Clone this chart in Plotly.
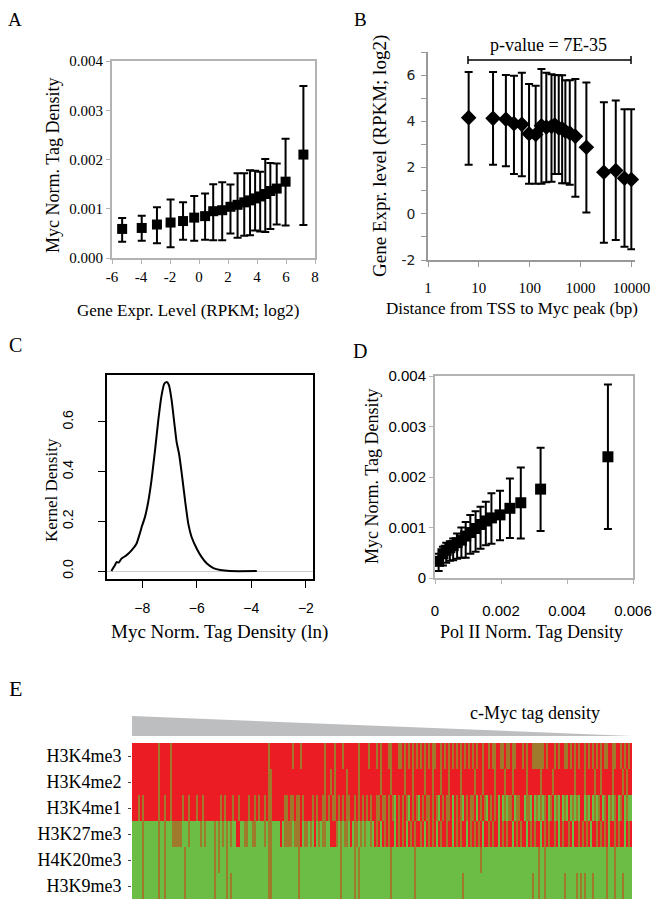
import plotly.graph_objects as go

# page body has an 8px margin, so the figure is drawn 8px smaller and all
# positions are expressed in screen pixels minus that offset
OFF = 8
W, H = 664 - OFF, 906 - OFF

# ---------------- Panel A data ----------------
A_X = [-5.3, -3.95, -2.9, -1.96, -1.1, -0.33, 0.42, 0.98, 1.6, 2.17, 2.66, 3.12, 3.52, 3.87, 4.22, 4.57, 4.92, 5.36, 5.97, 7.2]
A_Y = [0.00059, 0.00061, 0.00068, 0.00072, 0.00075, 0.00082, 0.00085, 0.00095, 0.00097, 0.00104, 0.00108, 0.00113, 0.00117, 0.00121, 0.00125, 0.0013, 0.00136, 0.00141, 0.00155, 0.0021]
A_HI = [0.00081, 0.00086, 0.00103, 0.00119, 0.00113, 0.00126, 0.00131, 0.0015, 0.00154, 0.00149, 0.00172, 0.00172, 0.00178, 0.00177, 0.00175, 0.00201, 0.00193, 0.00192, 0.00242, 0.00349]
A_LO = [0.00033, 0.00035, 0.0003, 0.00022, 0.00037, 0.00035, 0.00037, 0.00036, 0.00036, 0.0005, 0.00041, 0.00045, 0.00046, 0.00056, 0.00054, 0.00053, 0.00059, 0.00068, 0.00066, 0.00067]
A_XTICKS = [-6, -4, -2, 0, 2, 4, 6, 8]
A_XTICKTEXT = ["-6", "-4", "-2", "0", "2", "4", "6", "8"]
A_YTICKS = [0.0, 0.001, 0.002, 0.003, 0.004]
A_YTICKTEXT = ["0.000", "0.001", "0.002", "0.003", "0.004"]

# ---------------- Panel B data ----------------
B_X = [6.3, 19, 34, 49, 70, 97, 131, 170, 212, 268, 311, 372, 434, 502, 613, 790, 1300, 2870, 4920, 7300, 9950]
B_Y = [4.16, 4.13, 4.09, 3.9, 3.87, 3.46, 3.43, 3.81, 3.75, 3.78, 3.84, 3.71, 3.68, 3.57, 3.49, 3.35, 2.88, 1.8, 1.87, 1.54, 1.48]
B_HI = [6.14, 6.14, 6.01, 5.97, 6.1, 5.61, 5.54, 6.26, 6.1, 6.04, 6.01, 5.99, 5.99, 5.78, 5.78, 5.83, 5.68, 4.83, 4.9, 4.52, 4.52]
B_LO = [2.12, 2.12, 2.06, 1.72, 1.62, 1.3, 1.3, 1.3, 1.36, 1.39, 1.72, 1.72, 1.32, 1.32, 1.26, 0.74, 0.06, -1.25, -1.14, -1.43, -1.54]
B_XTICKS = [1, 10, 100, 1000, 10000]
B_XTICKTEXT = ["1", "10", "100", "1000", "10000"]
B_YTICKS = [-2, -1, 0, 1, 2, 3, 4, 5, 6, 7]
B_YTICKTEXT = ["-2", "", "0", "", "2", "", "4", "", "6", ""]
B_PVALUE = "p-value = 7E-35"

# ---------------- Panel C data ----------------
C_X = [-9.13, -9.0, -8.94, -8.86, -8.76, -8.58, -8.39, -8.21, -8.09, -8.02, -7.9, -7.78, -7.66, -7.53, -7.41, -7.29, -7.19, -7.1, -7.02, -6.92, -6.82, -6.74, -6.65, -6.55, -6.43, -6.31, -6.19, -6.0, -5.82, -5.63, -5.39, -5.14, -4.78, -3.8]
C_Y = [0.0, 0.023, 0.036, 0.034, 0.05, 0.063, 0.083, 0.11, 0.15, 0.177, 0.217, 0.278, 0.365, 0.486, 0.607, 0.707, 0.754, 0.761, 0.748, 0.687, 0.593, 0.52, 0.472, 0.392, 0.285, 0.19, 0.137, 0.09, 0.056, 0.03, 0.012, 0.004, 0.0, 0.0]
C_XTICKS = [-8, -6, -4, -2]
C_XTICKTEXT = ["\u22128", "\u22126", "\u22124", "\u22122"]
C_YTICKS = [0.0, 0.2, 0.4, 0.6]
C_YTICKTEXT = ["0.0", "0.2", "0.4", "0.6"]

# ---------------- Panel D data ----------------
D_X = [0.00011, 0.00024, 0.00034, 0.00045, 0.00055, 0.00067, 0.0008, 0.00093, 0.00107, 0.00123, 0.00138, 0.00154, 0.00171, 0.00197, 0.00227, 0.0026, 0.0032, 0.00524]
D_Y = [0.00033, 0.00048, 0.00055, 0.0006, 0.00064, 0.0007, 0.00075, 0.00083, 0.0009, 0.00098, 0.00106, 0.00113, 0.00119, 0.00125, 0.00138, 0.00149, 0.00176, 0.0024]
D_HI = [0.00048, 0.00062, 0.0007, 0.00073, 0.00078, 0.00088, 0.001, 0.00111, 0.00125, 0.00132, 0.00141, 0.00151, 0.00168, 0.00173, 0.00197, 0.00219, 0.00258, 0.00383]
D_LO = [0.00014, 0.00025, 0.0003, 0.00034, 0.00035, 0.00038, 0.0004, 0.0004, 0.00048, 0.00052, 0.00058, 0.00065, 0.00068, 0.00075, 0.00079, 0.00078, 0.00093, 0.00097]
D_XTICKS = [0, 0.002, 0.004, 0.006]
D_XTICKTEXT = ["0", "0.002", "0.004", "0.006"]
D_YTICKS = [0, 0.001, 0.002, 0.003, 0.004]
D_YTICKTEXT = ["0", "0.001", "0.002", "0.003", "0.004"]

# ---------------- Panel E data ----------------
E_ROWS = ["H3K4me3", "H3K4me2", "H3K4me1", "H3K27me3", "H4K20me3", "H3K9me3"]
E_NCOLS = 250
E_BASE = [1, 1, 1, 0, 0, 0]
H3K4ME3_OLIVE = [13, 19, 68, 80, 84, 96, 101, 105, 113, 118, 122, 124, 128, 129, 133, 134, 136, 138, 140, 142, 144, 146, 148, 150, 151, 154, 156, 158, 160, 162, 164, 166, 168, 170, 172, 175, 178, 180, 181, 184, 185, 187, 188, 190, 191, 195, 197, 200, 201, 202, 203, 204, 205, 207, 211, 213, 216, 217, 219, 221, 223, 226, 228, 230, 232, 234, 236, 237, 240, 241, 244, 246, 248]
H3K4ME2_OLIVE = [13, 19, 68, 69, 96, 99, 101, 107, 113, 124, 129, 136, 140, 146, 150, 154, 158, 164, 171, 175, 181, 186, 190, 197, 204, 210, 221, 226, 231, 234, 240, 245, 247]
H3K4ME1_OLIVE = [3, 5, 13, 16, 19, 25, 28, 32, 35, 44, 46, 50, 53, 58, 61, 63, 66, 68, 69, 76, 77, 79, 80, 82, 83, 85, 90, 92, 95, 96, 98, 100, 101, 103, 105, 107, 108, 111, 113, 115, 117, 119, 122, 123, 125, 126, 128, 130, 133, 135, 137, 140, 142, 145, 147, 148, 150, 152, 155, 157, 158, 162, 164, 167, 169, 170, 174, 176, 179, 181, 186, 188, 189, 192, 193, 197, 198, 202, 204, 206, 209, 212, 216, 220, 222, 227, 231, 233, 236, 239, 241, 244, 247]
H3K4ME1_GREEN = [131, 138, 143, 153, 160, 165, 172, 177, 183, 185, 187, 191, 196, 199, 201, 203, 205, 208, 211, 213, 215, 217, 219, 221, 223, 226, 228, 230, 232, 235, 238, 240, 243, 246, 248, 249]
H3K27ME3_RED_SPANS = [(52, 53), (99, 101), (121, 249)]
H3K27ME3_RED = [74, 84, 91, 109]
H3K27ME3_OLIVE = [5, 13, 16, 20, 21, 22, 23, 24, 28, 34, 36, 41, 43, 45, 47, 49, 56, 57, 60, 61, 66, 68, 69, 76, 77, 78, 79, 81, 82, 83, 86, 87, 89, 93, 95, 96, 102, 104, 106, 107, 111, 112, 114, 116, 119, 122, 126, 128, 133, 135, 139, 141, 144, 148, 150, 154, 157, 162, 164, 169, 171, 173, 178, 180, 185, 187, 192, 194, 199, 201, 206, 208, 211, 215, 218, 223, 225, 227, 232, 234, 236, 241, 243, 248]
H3K27ME3_GREEN = [124, 131, 137, 146, 152, 160, 167, 175, 183, 190, 197, 204, 213, 220, 229, 238, 246]
H4K20ME3_OLIVE = [5, 13, 16, 26, 41, 43, 47, 68, 69, 83, 104, 111, 113, 129, 141, 174, 203, 206, 237, 241]
H3K9ME3_OLIVE = [5, 13, 16, 26, 41, 47, 49, 68, 69, 83, 104, 111, 113, 129, 141, 165, 200, 203, 206, 216, 222, 224, 226, 230, 237, 241, 245]

E_RED_SPANS = [[], [], [], H3K27ME3_RED_SPANS, [], []]
E_RED = [[], [], [], H3K27ME3_RED, [], []]
E_OLIVE = [H3K4ME3_OLIVE, H3K4ME2_OLIVE, H3K4ME1_OLIVE, H3K27ME3_OLIVE, H4K20ME3_OLIVE, H3K9ME3_OLIVE]
E_GREEN = [[], [], H3K4ME1_GREEN, H3K27ME3_GREEN, [], []]

z = []
for r in range(len(E_ROWS)):
    row = [E_BASE[r]] * E_NCOLS
    for a, b in E_RED_SPANS[r]:
        for c in range(a, b + 1):
            row[c] = 1
    for c in E_RED[r]:
        row[c] = 1
    for c in E_OLIVE[r]:
        row[c] = 0.5
    for c in E_GREEN[r]:
        row[c] = 0
    z.append(row)

# ---------------- layout helpers (screen px -> paper) ----------------
def px(x):
    return (x - OFF) / W

def py(y):
    return 1 - (y - OFF) / H

SERIF = "Liberation Serif"
SANS = "Liberation Sans"
VERD = "DejaVu Sans"

fig = go.Figure()

def errs(y, hi, lo):
    return [h - v for h, v in zip(hi, y)], [v - l for v, l in zip(y, lo)]

# A
ep, em = errs(A_Y, A_HI, A_LO)
fig.add_trace(go.Scatter(x=A_X, y=A_Y, mode="markers", xaxis="x", yaxis="y",
                         marker=dict(symbol="square", size=10, color="black"),
                         error_y=dict(type="data", symmetric=False, array=ep, arrayminus=em,
                                      color="black", thickness=2, width=4),
                         showlegend=False))
# B
ep, em = errs(B_Y, B_HI, B_LO)
fig.add_trace(go.Scatter(x=B_X, y=B_Y, mode="markers", xaxis="x2", yaxis="y2",
                         marker=dict(symbol="diamond", size=12, color="black"),
                         error_y=dict(type="data", symmetric=False, array=ep, arrayminus=em,
                                      color="black", thickness=2, width=4),
                         showlegend=False, cliponaxis=False))
# C
fig.add_trace(go.Scatter(x=C_X, y=C_Y, mode="lines", xaxis="x3", yaxis="y3",
                         line=dict(color="black", width=2, shape="spline", smoothing=0.5),
                         showlegend=False))
# D
ep, em = errs(D_Y, D_HI, D_LO)
fig.add_trace(go.Scatter(x=D_X, y=D_Y, mode="markers", xaxis="x4", yaxis="y4",
                         marker=dict(symbol="square", size=11, color="black"),
                         error_y=dict(type="data", symmetric=False, array=ep, arrayminus=em,
                                      color="black", thickness=2, width=4),
                         showlegend=False, cliponaxis=False))
# E
fig.add_trace(go.Heatmap(z=z, x=list(range(E_NCOLS)), y=list(range(len(E_ROWS))),
                         xaxis="x5", yaxis="y5", zmin=0, zmax=1, showscale=False,
                         colorscale=[[0, "#6cbd45"], [0.5, "#9f7a2c"], [1, "#ec1c24"]],
                         hoverinfo="skip"))

GRAY = "#b3b3b3"
common = dict(showgrid=False, zeroline=False, automargin=False)

fig.update_layout(
    template="none",
    width=W, height=H, margin=dict(l=0, r=0, t=0, b=0, pad=0, autoexpand=False),
    paper_bgcolor="white", plot_bgcolor="white",
    xaxis=dict(domain=[px(112), px(315)], range=[-6, 8], tickvals=A_XTICKS, ticktext=A_XTICKTEXT, anchor="y",
               ticks="outside", ticklen=4, tickcolor=GRAY, showline=True, mirror=True,
               linecolor=GRAY, linewidth=2, tickfont=dict(family=SERIF, size=15, color="black"), **common),
    yaxis=dict(domain=[py(258), py(61)], range=[0, 0.004], tickvals=A_YTICKS, ticktext=A_YTICKTEXT, anchor="x",
               ticks="outside", ticklen=4, tickcolor=GRAY, showline=True, mirror=True,
               linecolor=GRAY, linewidth=2, tickfont=dict(family=SERIF, size=15, color="black"), **common),
    xaxis2=dict(domain=[px(428), px(635)], type="log", range=[0, 4.07], tickvals=B_XTICKS, ticktext=B_XTICKTEXT,
                anchor="y2", ticks="outside", ticklen=5, tickcolor="#999999", showline=True,
                linecolor="#999999", linewidth=1.5, ticklabelstandoff=8,
                tickfont=dict(family=SERIF, size=15, color="black"), **common),
    yaxis2=dict(domain=[py(260), py(52)], range=[-2, 7], tickvals=B_YTICKS, ticktext=B_YTICKTEXT,
                anchor="x2", ticks="outside", ticklen=5, tickcolor="#999999", showline=True,
                linecolor="#999999", linewidth=1.5, ticklabelstandoff=3,
                tickfont=dict(family=VERD, size=14, color="#222222"), **common),
    xaxis3=dict(domain=[px(107), px(313)], range=[-9.29, -1.74], tickvals=C_XTICKS, ticktext=C_XTICKTEXT,
                anchor="y3", ticks="outside", ticklen=7, tickcolor="black", showline=True, mirror=True,
                linecolor="black", linewidth=1.5, ticklabelstandoff=8,
                tickfont=dict(family=SANS, size=14, color="black"), **common),
    yaxis3=dict(domain=[py(579), py(375)], range=[-0.032, 0.789], tickvals=C_YTICKS, ticktext=C_YTICKTEXT,
                anchor="x3", ticks="outside", ticklen=7, tickcolor="black", showline=True, mirror=True,
                linecolor="black", linewidth=1.5, tickangle=-90, ticklabelstandoff=20,
                tickfont=dict(family=SANS, size=14, color="black"), showgrid=False, automargin=False,
                zeroline=True, zerolinecolor="#cccccc", zerolinewidth=1),
    xaxis4=dict(domain=[px(435), px(633)], range=[0, 0.006], tickvals=D_XTICKS, ticktext=D_XTICKTEXT,
                anchor="y4", ticks="outside", ticklen=4, tickcolor=GRAY, showline=True, mirror=True,
                linecolor=GRAY, linewidth=2, ticklabelstandoff=14,
                tickfont=dict(family=SANS, size=15, color="black"), **common),
    yaxis4=dict(domain=[py(578), py(376)], range=[0, 0.004], tickvals=D_YTICKS, ticktext=D_YTICKTEXT,
                anchor="x4", ticks="outside", ticklen=4, tickcolor=GRAY, showline=True, mirror=True,
                linecolor=GRAY, linewidth=2,
                tickfont=dict(family=SANS, size=15, color="black"), **common),
    xaxis5=dict(domain=[px(132), px(632)], range=[-0.5, E_NCOLS - 0.5], anchor="y5",
                showticklabels=False, ticks="", showline=False, **common),
    yaxis5=dict(domain=[py(899), py(743)], range=[len(E_ROWS) - 0.5, -0.5], anchor="x5",
                tickvals=list(range(len(E_ROWS))), ticktext=E_ROWS, ticks="outside", ticklen=3,
                tickcolor="#444444", showline=False, ticklabelstandoff=3,
                tickfont=dict(family=SERIF, size=18, color="black"), **common),
)

ann = []
def txt(x, y, s, size, font=SERIF, angle=0, yanchor="middle"):
    ann.append(dict(x=px(x), y=py(y), xref="paper", yref="paper", text=s, showarrow=False,
                    textangle=angle, xanchor="center", yanchor=yanchor, borderpad=0,
                    font=dict(family=font, size=size, color="black")))

# panel letters (A and B sit at the very top of the visible page)
txt(15, 8.5, "A", 19, yanchor="top")
txt(360, 8.5, "B", 19, yanchor="top")
txt(15, 345, "C", 20)
txt(360, 351, "D", 20)
txt(15, 688, "E", 22)
# A titles
txt(53, 166, "Myc Norm. Tag Density", 18, angle=-90)
txt(188, 310, "Gene Expr. Level (RPKM; log2)", 17)
# B titles
txt(380, 156, "Gene Expr. level (RPKM; log2)", 19, angle=-90)
txt(512, 308, "Distance from TSS to Myc peak (bp)", 17)
txt(548, 45, B_PVALUE, 18)
# C titles
txt(51, 490, "Kernel Density", 17, angle=-90)
txt(219, 632, "Myc Norm. Tag Density (ln)", 19)
# D titles
txt(372, 477, "Myc Norm. Tag Density", 18, angle=-90)
txt(531, 632, "Pol II Norm. Tag Density", 18)
# E label
txt(535, 713, "c-Myc tag density", 18)

fig.update_layout(annotations=ann)

shapes = []
# p-value bracket
shapes.append(dict(type="line", xref="paper", yref="paper", x0=px(468), x1=px(631), y0=py(60), y1=py(60),
                   line=dict(color="black", width=1.5)))
shapes.append(dict(type="line", xref="paper", yref="paper", x0=px(468), x1=px(468), y0=py(56), y1=py(64),
                   line=dict(color="black", width=1.5)))
shapes.append(dict(type="line", xref="paper", yref="paper", x0=px(631), x1=px(631), y0=py(56), y1=py(64),
                   line=dict(color="black", width=1.5)))
# gray wedge above the heatmap
shapes.append(dict(type="path", xref="paper", yref="paper",
                   path=f"M {px(132)},{py(716)} L {px(632)},{py(736)} L {px(132)},{py(736)} Z",
                   fillcolor="#bcbec0", line=dict(width=0)))
fig.update_layout(shapes=shapes)

fig.write_html("out.html")
